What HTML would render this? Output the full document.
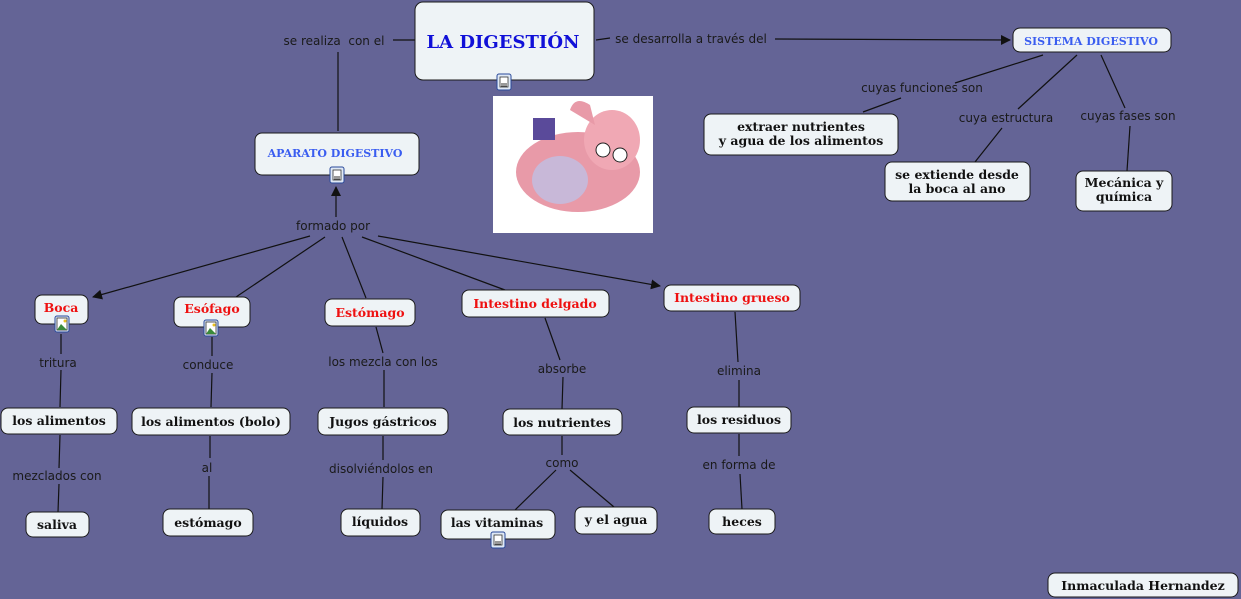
<!DOCTYPE html>
<html><head><meta charset="utf-8"><style>
html,body{margin:0;padding:0;background:#646496;}
svg{display:block}
.n{fill:#eef3f6;stroke:#1a1a1a;stroke-width:1}
.t{font-family:"DejaVu Serif","Liberation Serif",serif;font-weight:bold;font-size:12.5px;fill:#111;text-anchor:middle}
.r{fill:#ee1111}
.b{fill:#3a5df0}
.l{font-family:"DejaVu Sans","Liberation Sans",sans-serif;font-size:12px;fill:#1a1a1a;text-anchor:middle}
.k{stroke:#111;stroke-width:1.2;fill:none}
</style></head><body>
<svg width="1241" height="599" viewBox="0 0 1241 599" xmlns="http://www.w3.org/2000/svg">
<defs><marker id="a" markerWidth="10" markerHeight="10" refX="9" refY="5" orient="auto" markerUnits="userSpaceOnUse"><path d="M0,0 L10,5 L0,10 z" fill="#111"/></marker>
<g id="ic"><rect x="-7" y="-8" width="14" height="16" rx="2" fill="#dfe8f5" stroke="#2a4a9a"/><rect x="-4" y="-5" width="8" height="10" fill="#fff" stroke="#333" stroke-width="0.8"/><line x1="-3" y1="2" x2="3" y2="2" stroke="#333"/><line x1="-3" y1="4" x2="3" y2="4" stroke="#333"/></g>
<g id="ip"><rect x="-7" y="-8" width="14" height="16" rx="2" fill="#dfe8f5" stroke="#2a4a9a"/><rect x="-5" y="-6" width="10" height="12" fill="#fff" stroke="#333" stroke-width="0.8"/><path d="M-5,6 L-1,0 L5,6z" fill="#3a8a3a"/><circle cx="3" cy="-3" r="1.5" fill="#e8c020"/></g>
</defs>
<g class="k">
<line x1="415" y1="40" x2="393" y2="40"/><line x1="338" y1="52" x2="338" y2="131"/>
<line x1="596" y1="40" x2="610" y2="38"/><line x1="775" y1="39" x2="1010" y2="40" marker-end="url(#a)"/>
<line x1="1043" y1="55" x2="955" y2="83"/><line x1="901" y1="98" x2="863" y2="112"/>
<line x1="1077" y1="55" x2="1018" y2="109"/><line x1="1002" y1="128" x2="975" y2="162"/>
<line x1="1101" y1="55" x2="1125" y2="108"/><line x1="1130" y1="126" x2="1127" y2="171"/>
<line x1="336" y1="217" x2="336" y2="187" marker-end="url(#a)"/>
<line x1="310" y1="236" x2="93" y2="297" marker-end="url(#a)"/>
<line x1="325" y1="237" x2="236" y2="297"/>
<line x1="342" y1="237" x2="366" y2="298"/>
<line x1="362" y1="237" x2="505" y2="290"/>
<line x1="378" y1="236" x2="660" y2="286" marker-end="url(#a)"/>
<line x1="61" y1="334" x2="61" y2="354"/><line x1="61" y1="370" x2="60" y2="407"/>
<line x1="60" y1="435" x2="59" y2="468"/><line x1="59" y1="484" x2="58" y2="512"/>
<line x1="212" y1="337" x2="212" y2="356"/><line x1="212" y1="373" x2="211" y2="407"/>
<line x1="210" y1="436" x2="210" y2="458"/><line x1="209" y1="476" x2="209" y2="509"/>
<line x1="376" y1="327" x2="383" y2="353"/><line x1="384" y1="370" x2="384" y2="407"/>
<line x1="383" y1="436" x2="383" y2="460"/><line x1="383" y1="477" x2="382" y2="509"/>
<line x1="545" y1="318" x2="560" y2="360"/><line x1="563" y1="377" x2="562" y2="409"/>
<line x1="562" y1="436" x2="562" y2="455"/><line x1="556" y1="470" x2="515" y2="510"/><line x1="570" y1="470" x2="614" y2="507"/>
<line x1="735" y1="312" x2="738" y2="362"/><line x1="739" y1="380" x2="739" y2="407"/>
<line x1="739" y1="434" x2="739" y2="456"/><line x1="740" y1="474" x2="742" y2="509"/>
</g>
<rect class="n" x="415" y="2" width="179" height="78" rx="8"/>
<text class="t" x="503" y="48" style="font-size:18px;fill:#1010d8">LA DIGESTIÓN</text>
<use href="#ic" x="504" y="82"/>
<rect class="n" x="1013" y="28" width="158" height="24" rx="7"/>
<text class="t b" x="1091" y="45" style="font-size:11px">SISTEMA DIGESTIVO</text>
<rect class="n" x="255" y="133" width="164" height="42" rx="7"/>
<text class="t b" x="335" y="157" style="font-size:11px">APARATO DIGESTIVO</text>
<use href="#ic" x="337" y="175"/>
<rect x="493" y="96" width="160" height="137" fill="#fff"/>
<ellipse cx="578" cy="172" rx="62" ry="40" fill="#e89aa8"/><ellipse cx="612" cy="140" rx="28" ry="30" fill="#f0a8b4"/>
<path d="M570,110 Q575,95 590,105 L595,125 Z" fill="#e89aa8"/>
<ellipse cx="560" cy="180" rx="28" ry="24" fill="#c8b8d8"/><rect x="533" y="118" width="22" height="22" fill="#5a4a9a"/>
<circle cx="603" cy="150" r="7" fill="#fff" stroke="#222"/><circle cx="620" cy="155" r="7" fill="#fff" stroke="#222"/>
<rect class="n" x="704" y="114" width="194" height="41" rx="7"/>
<text class="t" x="801" y="131">extraer nutrientes</text><text class="t" x="801" y="145">y agua de los alimentos</text>
<rect class="n" x="885" y="162" width="145" height="39" rx="7"/>
<text class="t" x="957" y="179">se extiende desde</text><text class="t" x="957" y="193">la boca al ano</text>
<rect class="n" x="1076" y="171" width="96" height="40" rx="7"/>
<text class="t" x="1124" y="187">Mecánica y</text><text class="t" x="1124" y="201">química</text>
<rect class="n" x="35" y="295" width="53" height="29" rx="7"/><text class="t r" x="61" y="312">Boca</text><use href="#ip" x="62" y="324"/>
<rect class="n" x="174" y="297" width="76" height="30" rx="7"/><text class="t r" x="212" y="313">Esófago</text><use href="#ip" x="211" y="328"/>
<rect class="n" x="325" y="299" width="90" height="27" rx="7"/><text class="t r" x="370" y="317">Estómago</text>
<rect class="n" x="462" y="290" width="147" height="27" rx="7"/><text class="t r" x="535" y="308">Intestino delgado</text>
<rect class="n" x="664" y="285" width="136" height="26" rx="7"/><text class="t r" x="732" y="302">Intestino grueso</text>
<rect class="n" x="1" y="408" width="116" height="26" rx="7"/><text class="t" x="59" y="425">los alimentos</text>
<rect class="n" x="132" y="408" width="158" height="27" rx="7"/><text class="t" x="211" y="426">los alimentos (bolo)</text>
<rect class="n" x="318" y="408" width="130" height="27" rx="7"/><text class="t" x="383" y="426">Jugos gástricos</text>
<rect class="n" x="503" y="409" width="119" height="26" rx="7"/><text class="t" x="562" y="427">los nutrientes</text>
<rect class="n" x="687" y="407" width="104" height="26" rx="7"/><text class="t" x="739" y="424">los residuos</text>
<rect class="n" x="26" y="512" width="63" height="25" rx="7"/><text class="t" x="57" y="529">saliva</text>
<rect class="n" x="163" y="509" width="90" height="27" rx="7"/><text class="t" x="208" y="527">estómago</text>
<rect class="n" x="341" y="509" width="79" height="27" rx="7"/><text class="t" x="380" y="526">líquidos</text>
<rect class="n" x="441" y="510" width="114" height="29" rx="7"/><text class="t" x="497" y="527">las vitaminas</text><use href="#ic" x="498" y="540"/>
<rect class="n" x="575" y="507" width="82" height="27" rx="7"/><text class="t" x="616" y="524">y el agua</text>
<rect class="n" x="709" y="509" width="66" height="25" rx="7"/><text class="t" x="742" y="526">heces</text>
<rect class="n" x="1048" y="573" width="190" height="24" rx="7"/><text class="t" x="1143" y="590">Inmaculada Hernandez</text>
<text class="l" x="334" y="45" xml:space="preserve">se realiza  con el</text>
<text class="l" x="691" y="43">se desarrolla a través del</text>
<text class="l" x="922" y="92">cuyas funciones son</text>
<text class="l" x="1006" y="122">cuya estructura</text>
<text class="l" x="1128" y="120">cuyas fases son</text>
<text class="l" x="333" y="230">formado por</text>
<text class="l" x="58" y="367">tritura</text>
<text class="l" x="208" y="369">conduce</text>
<text class="l" x="383" y="366">los mezcla con los</text>
<text class="l" x="562" y="373">absorbe</text>
<text class="l" x="739" y="375">elimina</text>
<text class="l" x="57" y="480">mezclados con</text>
<text class="l" x="207" y="472">al</text>
<text class="l" x="381" y="473">disolviéndolos en</text>
<text class="l" x="562" y="467">como</text>
<text class="l" x="739" y="469">en forma de</text>
</svg>
</body></html>
